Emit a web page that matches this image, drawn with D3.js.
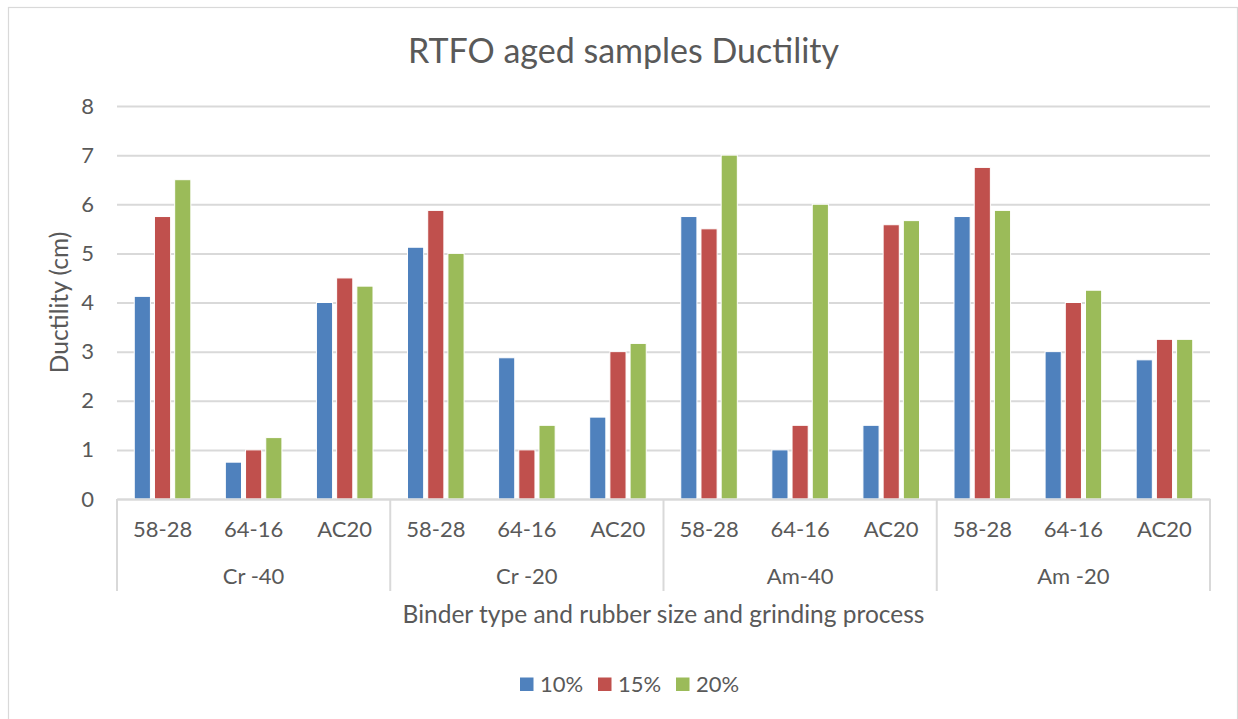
<!DOCTYPE html>
<html>
<head>
<meta charset="utf-8">
<script src="https://cdn.jsdelivr.net/npm/d3@7"></script>
<style>
  html, body { margin: 0; padding: 0; background: #fff; }
  svg { display: block; }
  text { font-family: Lato, "Open Sans", sans-serif; fill: #595959; }
</style>
</head>
<body>
<svg id="chart" width="1238" height="719"></svg>
<script>
// ---- data ----
const groups = ["Cr -40", "Cr -20", "Am-40", "Am -20"];
const binders = ["58-28", "64-16", "AC20"];
const seriesNames = ["10%", "15%", "20%"];
const values10 = [4.125, 0.75, 4.0, 5.125, 2.875, 1.667, 5.75, 1.0, 1.5, 5.75, 3.0, 2.833];
const values15 = [5.75, 1.0, 4.5, 5.875, 1.0, 3.0, 5.5, 1.5, 5.583, 6.75, 4.0, 3.25];
const values20 = [6.5, 1.25, 4.333, 5.0, 1.5, 3.167, 7.0, 6.0, 5.667, 5.875, 4.25, 3.25];
const yTicks = [0, 1, 2, 3, 4, 5, 6, 7, 8];
const colors = ["#4F81BD", "#C0504D", "#9BBB59"];
const titleText = "RTFO aged samples Ductility";
const xTitle = "Binder type and rubber size and grinding process";
const yTitle = "Ductility (cm)";

// build table
const cats = [];
groups.forEach(g => binders.forEach(b => cats.push({ key: g + "|" + b, group: g, binder: b })));
const seriesVals = [values10, values15, values20];
const table = cats.map((c, i) => ({ ...c, vals: seriesNames.map((s, j) => ({ s, j, v: seriesVals[j][i] })) }));

// ---- layout ----
const svg = d3.select("#chart");
const L = 117, R = 1210, T = 106, B = 499;

// chart border
svg.append("rect").attr("x", 8.5).attr("y", 7.5).attr("width", 1229).attr("height", 730)
  .attr("fill", "#fff").attr("stroke", "#d9d9d9").attr("stroke-width", 1.2);

const x0 = d3.scaleBand().domain(cats.map(c => c.key)).range([L, R]).padding(0);
const x1 = d3.scaleBand().domain(seriesNames).range([0, x0.bandwidth()]).paddingInner(0.2).paddingOuter(0.854);
const y = d3.scaleLinear().domain([0, 8]).range([B, T]);
const xg = d3.scaleBand().domain(groups).range([L, R]).padding(0);

// gridlines
const grid = svg.append("g").attr("transform", `translate(${L},0)`)
  .call(d3.axisLeft(y).tickValues(yTicks).tickSize(-(R - L)).tickFormat(""));
grid.select(".domain").remove();
grid.selectAll("line").attr("stroke", "#d9d9d9").attr("stroke-width", 2);

// y tick labels
const yAxis = svg.append("g").attr("transform", `translate(${L},0)`)
  .call(d3.axisLeft(y).tickValues(yTicks).tickSize(0).tickPadding(23).tickFormat(d3.format("d")));
yAxis.select(".domain").remove();
yAxis.selectAll("text").attr("font-size", 22).attr("fill", "#595959").style("font-family", "Lato");

// bars
const cg = svg.append("g").selectAll("g").data(table).join("g")
  .attr("transform", d => `translate(${x0(d.key)},0)`);
cg.selectAll("rect").data(d => d.vals).join("rect")
  .attr("x", d => x1(d.s))
  .attr("width", x1.bandwidth())
  .attr("y", d => y(d.v))
  .attr("height", d => y(0) - y(d.v))
  .attr("fill", d => colors[d.j])
  .attr("stroke", "#fff").attr("stroke-width", 1);

// x axis (binder labels)
const xAxis = svg.append("g").attr("transform", `translate(0,${B})`)
  .call(d3.axisBottom(x0).tickSize(0).tickPadding(22).tickFormat(k => k.split("|")[1]));
xAxis.select(".domain").attr("stroke", "#d9d9d9").attr("stroke-width", 2);
xAxis.selectAll("text").attr("font-size", 22).attr("fill", "#595959").style("font-family", "Lato");

// group dividers
const bounds = groups.map(g => xg(g)).concat([R]);
svg.append("g").selectAll("line").data(bounds).join("line")
  .attr("x1", d => d).attr("x2", d => d).attr("y1", B).attr("y2", 591)
  .attr("stroke", "#d9d9d9").attr("stroke-width", 2);

// group labels
svg.append("g").selectAll("text").data(groups).join("text")
  .attr("x", g => xg(g) + xg.bandwidth() / 2).attr("y", 584)
  .attr("text-anchor", "middle").attr("font-size", 22).text(g => g);

// title
svg.append("text").attr("x", 623.5).attr("y", 63).attr("text-anchor", "middle")
  .attr("font-size", 34).text(titleText);

// axis titles
svg.append("text").attr("x", (L + R) / 2).attr("y", 623).attr("text-anchor", "middle")
  .attr("font-size", 24.5).text(xTitle);
svg.append("text").attr("transform", `translate(68,${(T + B) / 2}) rotate(-90)`)
  .attr("text-anchor", "middle").attr("font-size", 24.5).text(yTitle);

// legend
const lg = svg.append("g").selectAll("g").data(seriesNames).join("g")
  .attr("transform", (d, i) => `translate(${520 + i * 78},0)`);
lg.append("rect").attr("x", 0).attr("y", 677.5).attr("width", 13.5).attr("height", 13.5)
  .attr("fill", (d, i) => colors[i]);
lg.append("text").attr("x", 20).attr("y", 692).attr("font-size", 22).text(d => d);
</script>
</body>
</html>
